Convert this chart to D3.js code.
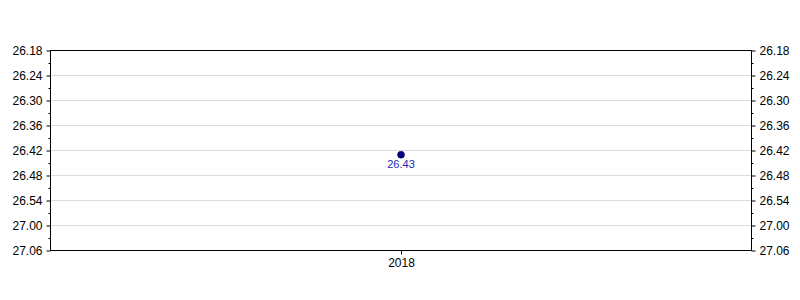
<!DOCTYPE html>
<html><head><meta charset="utf-8">
<script src="https://cdn.jsdelivr.net/npm/d3@7"></script>
<style>body{margin:0;background:#fff}svg{display:block}text{font-family:"Liberation Sans",Arial,sans-serif}</style>
</head><body><svg id="c" width="800" height="300"></svg>
<script>
const categories = ["2018"];
const values = [26.43];            // minutes.seconds
const yTickLabels = ["26.18","26.24","26.30","26.36","26.42","26.48","26.54","27.00","27.06"];

const toSec = v => { const m = Math.floor(v); return m*60 + Math.round((v-m)*100); };
const fmt = s => Math.floor(s/60) + "." + String(s%60).padStart(2,"0");

const W=800,H=300, L=50.5, R=751.5, T=50.5, B=250.5;
const svg = d3.select("#c");
const yMin = toSec(+yTickLabels[0]), yMax = toSec(+yTickLabels[yTickLabels.length-1]);
const y = d3.scaleLinear().domain([yMin,yMax]).range([T,B]);
const x = d3.scalePoint().domain(categories).range([L,R]).padding(0.5);
const major = yTickLabels.map(t=>toSec(+t));
const minor = d3.range(yMin, yMax+1, 3).filter(s=>!major.includes(s));

// gridlines
svg.append("g").selectAll("line").data(major.slice(1,-1)).join("line")
  .attr("x1",L).attr("x2",R).attr("y1",d=>y(d)).attr("y2",d=>y(d))
  .attr("stroke","#dcdcdc").attr("stroke-width",1);

function yAxis(axisFn, xpos){
  const g = svg.append("g").attr("transform",`translate(${xpos},0)`);
  g.call(axisFn(y).tickValues(major).tickFormat(fmt).tickSize(4).tickPadding(4));
  g.select(".domain").remove();
  g.selectAll("text").attr("font-size",12).attr("fill","#000").attr("font-family","Liberation Sans, Arial, sans-serif");
  g.selectAll("line").attr("stroke","#000");
  const g2 = svg.append("g").attr("transform",`translate(${xpos},0)`);
  g2.call(axisFn(y).tickValues(minor).tickFormat("").tickSize(2));
  g2.select(".domain").remove();
  g2.selectAll("line").attr("stroke","#000");
}
yAxis(d3.axisLeft, L);
yAxis(d3.axisRight, R);

const gx = svg.append("g").attr("transform",`translate(0,${B})`)
  .call(d3.axisBottom(x).tickSize(4).tickPadding(4));
gx.select(".domain").remove();
gx.selectAll("line").attr("stroke","#000");
gx.selectAll("text").attr("font-size",12).attr("fill","#000").attr("font-family","Liberation Sans, Arial, sans-serif");

// frame
svg.append("rect").attr("x",L).attr("y",T).attr("width",R-L).attr("height",B-T)
  .attr("fill","none").attr("stroke","#000").attr("stroke-width",1);

// point
svg.selectAll("circle.pt").data(values).join("circle").attr("class","pt")
  .attr("cx",(d,i)=>x(categories[i])).attr("cy",d=>y(toSec(d))).attr("r",3.5)
  .attr("fill","#000080").attr("stroke","#000040").attr("stroke-width",0.5);
svg.selectAll("text.lbl").data(values).join("text").attr("class","lbl")
  .attr("x",(d,i)=>x(categories[i])).attr("y",d=>y(toSec(d))+13)
  .attr("text-anchor","middle").attr("font-size",11).attr("fill","#2a2aa8")
  .text(d=>d.toFixed(2));
</script></body></html>
